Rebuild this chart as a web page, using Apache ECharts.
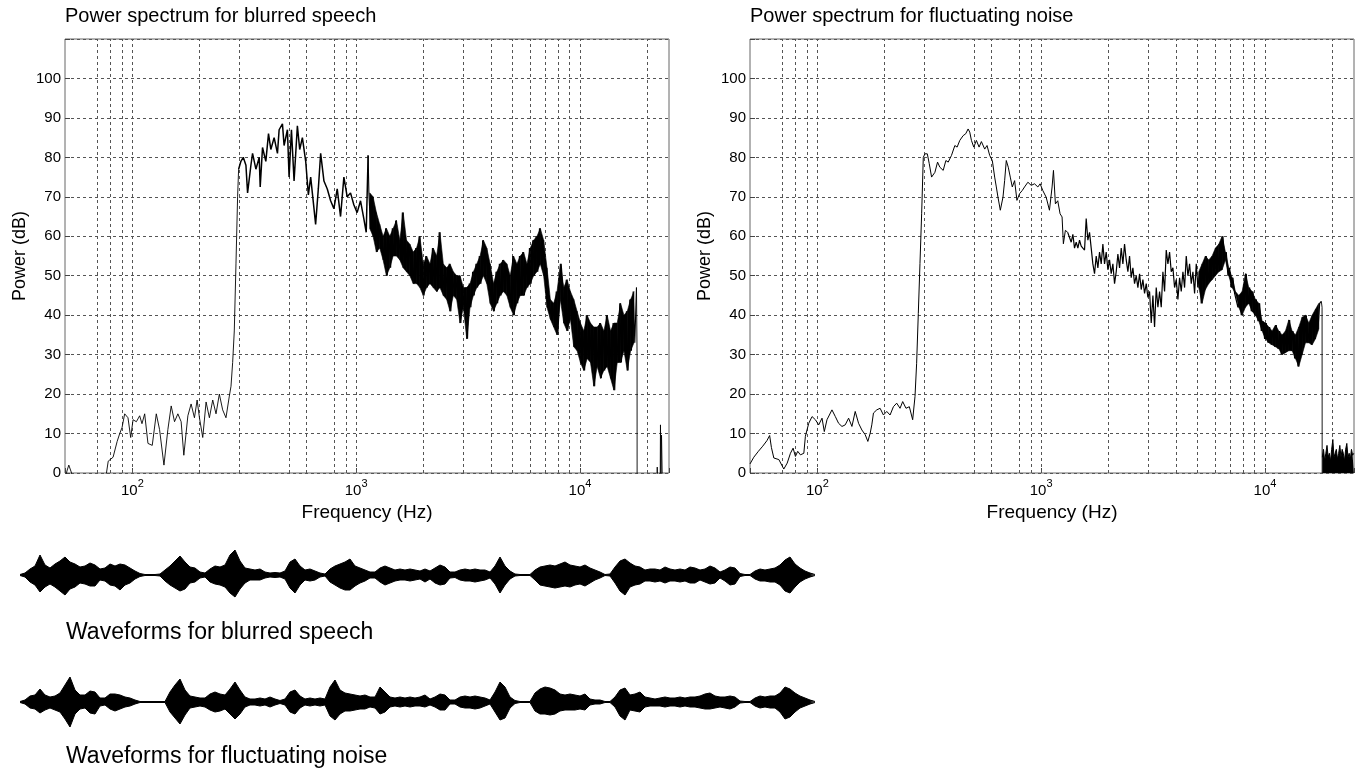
<!DOCTYPE html>
<html>
<head>
<meta charset="utf-8">
<script src="https://cdn.jsdelivr.net/npm/echarts@6/dist/echarts.min.js"></script>
<style>
  html, body { margin: 0; background: #fff; }
  #chart { width: 1359px; height: 776px; }
</style>
</head>
<body>
<div id="chart"></div>
<script>
// vertical grid lines as they show up in the picture (Hz)
const gridFreqs = [70, 80, 90, 100, 200, 300, 500, 600, 800, 900, 1000,
  2000, 3000, 4000, 5000, 6000, 7000, 8000, 9000, 10000, 20000];

// blurred speech: sparse part below 300 Hz, [Hz, dB]
const blurLow = [
  [50, -2], [51, 0.5], [52, 2], [53.5, 0], [55, -6], [74, -4], [76.6, 0], [78, 3], [82, 4], [85.5, 8],
  [87.8, 10], [89.9, 11.5], [92.4, 15], [95.6, 14], [98.3, 9], [100.7, 13.5], [104.2, 13], [107.8, 14.5],
  [110.4, 12.5], [113.5, 15], [117.4, 7.5], [122.7, 7], [127.9, 15], [132.3, 11], [138.4, 2], [144.1, 11],
  [149.1, 17], [154.3, 13], [159.7, 15], [165.2, 13], [169.8, 4.5], [177, 14.5], [183, 17.5], [189.4, 14],
  [194.7, 18.5], [199.4, 14], [206.3, 9], [213.5, 18], [220.9, 14], [228.6, 18.5], [236.5, 15], [244.7, 20],
  [253.2, 16], [262, 14], [271.2, 19.5], [275.9, 22], [280.6, 28], [285.4, 36], [290.4, 53], [295.3, 70],
  [298.4, 77]
];
// blurred speech: 300 Hz - 1.1 kHz
const blurMid = [
  [298.4, 77], [305.5, 79], [313, 80], [321.7, 78], [327.2, 71], [338.6, 78], [344.4, 81], [356.4, 77],
  [368.8, 80], [372.6, 72.5], [381.6, 82.5], [394.8, 79], [405.8, 86], [415.6, 82], [430, 85], [445, 81],
  [452.7, 87], [468.4, 88.5], [476.4, 83], [493, 87], [501.5, 75], [513.9, 87], [527.9, 74], [546.2, 88],
  [559.5, 82], [575, 85], [595, 79], [611.5, 70.5], [626.3, 75], [648, 67], [659, 63], [677.5, 72],
  [694, 81], [718, 74], [743, 72], [769, 69], [795.5, 67], [823, 72], [851.6, 65], [881.4, 75], [912, 70],
  [943.6, 71], [976.3, 68], [1010, 66], [1046, 69], [1082, 64.5], [1109, 61], [1131, 80.5]
];
// blurred speech: dense part, evenly spaced in log frequency (upper, lower, upper, ...)
const blurDenseFrom = 1140, blurDenseTo = 17890;
const blurDense = [
  71, 62, 70, 60, 66, 56, 63, 57, 60, 54,
  62, 50, 60, 52, 62, 55, 64, 55, 59, 54,
  66, 52, 59, 51, 58, 50, 56, 48, 57, 48,
  60, 47, 53, 45, 55, 47, 53, 48, 57, 47,
  55, 46, 61, 47, 53, 45, 52, 44, 53, 41,
  51, 45, 50, 44, 50, 38, 47, 42, 47, 34,
  48, 42, 51, 45, 53, 47, 55, 48, 59, 50,
  57, 48, 53, 43, 48, 41, 51, 43, 53, 45,
  54, 46, 53, 45, 50, 42, 55, 40, 53, 43,
  55, 45, 56, 45, 53, 47, 57, 48, 59, 50,
  60, 51, 62, 53, 59, 50, 52, 42, 44, 39,
  43, 37, 46, 35, 44, 53, 47, 38, 49, 36,
  46, 39, 44, 32, 41, 31, 38, 28, 36, 26,
  40, 29, 38, 28, 37, 22, 37, 27, 38, 24,
  36, 26, 40, 27, 36, 24, 38, 21, 38, 28,
  43, 28, 40, 31, 41, 26, 44, 31, 46, 33,
  47
];
const blurTail = [
  [17890, 47], [18000, 30], [18010, -10], [22100, -10], [22150, 1.5], [22250, -10], [22800, -10],
  [22900, 12.2], [23000, 0], [23150, 9.6], [23380, -5], [25000, -10]
];

// fluctuating noise: up to 1.3 kHz
const noiseLow = [
  [50, 2.3], [52, 4], [54.5, 5.5], [57, 6.8], [59.5, 8.2], [61.2, 9.5], [62.3, 6.5], [63.9, 3.8],
  [67.3, 3.4], [70.8, 1], [73.3, 2.5], [75.8, 5], [77.9, 6.3], [79.8, 4.2], [81.7, 5.5], [84, 4.6],
  [87, 5], [88.4, 9.3], [91.5, 12.6], [94.7, 14.3], [98, 13.5], [101.4, 12.2], [104.9, 13.9],
  [107.4, 10.5], [110.4, 13.5], [116.2, 16], [120.3, 14.3], [124.4, 12.6], [128.8, 11.8], [133.2, 12.2],
  [137.9, 13.9], [142.7, 11.8], [147.6, 15.6], [152.8, 12.6], [158.1, 10.9], [163.6, 9.7], [168.1, 8],
  [172.2, 10.1], [175.1, 12.2], [178.1, 15.2], [184.3, 16], [190.7, 16.4], [197.3, 14.7], [204.2, 15.6],
  [211.3, 14.7], [218.7, 16.8], [226.2, 17.7], [234.1, 16.4], [240.6, 18.1], [248.9, 16.4], [257.6, 16.8],
  [266.6, 13.5], [273.1, 19.4], [277.7, 27.8], [282.5, 40.4], [287.4, 53.1], [292.4, 65.7], [297.4, 80],
  [302.5, 80.9], [309.9, 80.9], [316.2, 78.4], [323.9, 75], [335.1, 76.2], [344.4, 78.8], [352.7, 77.5],
  [365, 76.7], [375.2, 79.2], [384.3, 78.8], [397.5, 80.5], [411.5, 83], [421.2, 82.6], [433, 84.3],
  [448, 85.5], [460.4, 86], [471.6, 87.2], [479.7, 86.4], [488, 84.3], [499.8, 82.6], [513.7, 84.3],
  [528, 82.6], [540.7, 84], [559.5, 82.1], [573, 83], [588.8, 80.5], [605, 79.2], [619.8, 75],
  [630.5, 72.5], [641.3, 69.9], [656.9, 66.6], [675.1, 69.9], [686.7, 74.1], [698.5, 79.2], [713, 77.5],
  [727.8, 75], [743, 72.5], [761, 74.1], [779.4, 69.1], [801, 70.8], [823, 71.6], [843, 72.5],
  [872.5, 73.7], [902.8, 72.9], [934, 73.3], [966.5, 72.5], [989.7, 73.3], [1017, 71.6], [1053, 69.9],
  [1089, 66.6], [1119, 72.5], [1135, 76.7], [1158, 68.2], [1186, 69], [1215, 65.7], [1240, 64.9],
  [1257, 58.1], [1283, 61.5], [1314, 61]
];
const noiseDenseFrom = 1339, noiseDenseTo = 17860;
const noiseDense = [
  61, 58.5, 60.5, 57, 58.5, 57, 59, 57.5, 58, 56.5,
  64.5, 59, 61, 57, 53, 50.5, 55, 52, 56, 53,
  58, 53, 56, 51.5, 54, 50.5, 53, 48, 51, 55.5,
  52, 57, 53, 58, 54, 51, 55, 49.5, 52, 48,
  50, 47, 50.5, 46.5, 49, 45.5, 48, 44.5, 46, 38,
  45, 37, 47, 42, 46, 42, 51, 46, 56.5, 53,
  56, 51, 52, 47, 49, 44, 49.5, 46, 51, 47,
  55, 50, 53, 48, 51, 45.5, 53, 47, 51, 43,
  53, 46.5, 55, 48, 54, 49, 55, 50, 57, 51,
  58, 51.5, 60, 54, 56, 50, 52, 47, 49.5, 45.5,
  46, 42, 45, 40, 46, 42, 50.5, 43, 47, 41,
  46, 40, 44, 38.5, 43, 36, 38.5, 34, 38, 33,
  37, 32.5, 36, 32, 37.5, 31.5, 36, 30, 35, 30.5,
  36, 31, 38.8, 31, 36, 29, 35, 27, 37, 30,
  39.5, 33, 40, 33, 38, 32.5, 40, 34, 41.5, 36.5,
  43, 43.5
];
// above this the noise trace turns into a solid black band
const noiseBandFrom = 5000;
const noiseDrop = [[17860, 43.5], [18000, 42], [18020, 0]];
// black floor above 18 kHz, top edge of the filled strip
const noiseFloorFrom = 18050, noiseFloorTo = 24950;
const noiseFloor = [4, 6, 3, 5, 7, 4, 5, 3, 6, 8.5, 4, 5, 6, 3.5, 5, 7, 4, 6, 5, 3, 6, 7.5, 4, 5, 3.5, 6, 4.5, 5];

// waveform envelopes (one sample every ~5 px), above and below the zero line
const wave1Up = [
  0.5, 2, 6, 9, 20, 10, 7, 11, 14, 18, 13, 11, 8, 9, 12, 10, 6, 7, 11, 9,
  11, 10, 7, 4, 1.5, 0.5, 0.5, 0.5, 1, 5, 9, 14, 19, 13, 8, 7, 3, 2, 6, 9,
  8, 10, 20, 25, 14, 7, 6, 5, 6, 3, 2, 2.5, 2, 4, 13, 16, 9, 5, 6, 4,
  2, 1, 6, 9, 11, 13, 16, 9, 7, 5, 3, 3, 7, 9, 7, 5, 6, 5, 6, 5,
  4, 6, 4, 7, 10, 8, 3, 3, 5, 6, 5, 6, 5, 5, 3, 9, 18, 9, 4, 1,
  0.5, 0.5, 0.5, 5, 8, 9, 10, 9, 11, 13, 10, 9, 8, 10, 7, 5, 3, 0.5, 1, 8,
  14, 16, 12, 9, 8, 5, 6, 6, 5, 8, 6, 5, 6, 5, 8, 7, 5, 6, 9, 7,
  3, 5, 8, 7, 1.5, 0.5, 0.5, 4, 6, 5, 6, 7, 10, 15, 18, 11, 7, 4, 2, 0.5
];
const wave1Dn = [
  0.5, 2, 7, 10, 17, 12, 9, 12, 16, 20, 14, 12, 8, 9, 11, 11, 5, 6, 10, 11,
  15, 10, 8, 4, 1.5, 0.5, 0.5, 0.5, 1, 6, 10, 13, 16, 14, 8, 7, 3, 2, 7, 9,
  10, 12, 18, 22, 14, 8, 5, 5, 5, 3, 2, 2.5, 2, 4, 13, 18, 10, 5, 6, 5,
  2, 1, 7, 10, 13, 15, 15, 11, 8, 6, 3, 3, 7, 10, 8, 6, 5, 5, 6, 5,
  4, 7, 4, 8, 10, 9, 3, 2.5, 5, 6, 6, 7, 6, 5, 3, 9, 18, 10, 4, 1,
  0.5, 0.5, 0.5, 5, 10, 11, 12, 13, 12, 11, 12, 10, 9, 11, 8, 5, 3, 0.5, 1, 8,
  16, 20, 12, 10, 9, 6, 6, 7, 6, 8, 6, 6, 7, 6, 8, 8, 5, 7, 9, 8,
  3, 6, 10, 9, 1.5, 0.5, 0.5, 4, 6, 6, 7, 7, 10, 16, 18, 12, 7, 4, 2, 0.5
];
const wave2Up = [
  0.5, 2, 6, 7, 13, 7, 5, 6, 9, 17, 25, 12, 7, 7, 11, 10, 4, 4, 8, 8,
  7, 5, 4, 2, 0.5, 0.5, 0.5, 0.5, 0.5, 0.5, 10, 17, 23, 12, 6, 5, 4, 4, 8, 10,
  8, 7, 13, 20, 12, 5, 3, 3, 4, 3, 5, 3, 1.5, 3, 10, 12, 6, 3, 4, 3,
  4, 3, 15, 22, 12, 9, 8, 7, 6, 7, 5, 5, 15, 10, 5, 4, 5, 4, 5, 4,
  5, 7, 3, 5, 8, 7, 2, 2, 5, 6, 5, 6, 5, 4, 2, 10, 20, 15, 5, 1.5,
  0.5, 0.5, 0.5, 9, 13, 15, 14, 12, 8, 7, 8, 7, 6, 8, 3, 2, 2, 0.5, 0.5, 5,
  12, 14, 7, 8, 10, 5, 4, 3, 4, 5, 4, 4, 5, 4, 5, 5, 6, 8, 9, 6,
  5, 5, 6, 5, 1, 0.5, 0.5, 4, 6, 5, 6, 6, 9, 15, 13, 9, 6, 4, 2, 0.5
];
const wave2Dn = [
  0.5, 2, 6, 7, 11, 8, 6, 8, 10, 17, 25, 12, 7, 6, 11, 12, 4, 3, 7, 9,
  7, 5, 4, 2, 0.5, 0.5, 0.5, 0.5, 0.5, 0.5, 10, 16, 22, 13, 6, 5, 4, 5, 8, 10,
  9, 7, 12, 17, 12, 5, 3, 3, 4, 3, 5, 3, 1.5, 3, 10, 12, 6, 3, 4, 3,
  4, 3, 14, 18, 12, 9, 9, 8, 7, 7, 5, 6, 12, 10, 5, 4, 5, 4, 5, 4,
  4, 5, 3, 5, 8, 8, 2, 2, 5, 6, 6, 7, 6, 4, 2, 10, 18, 16, 6, 1.5,
  0.5, 0.5, 0.5, 9, 12, 12, 13, 12, 9, 8, 8, 8, 7, 8, 3, 2, 2, 0.5, 0.5, 5,
  14, 18, 8, 9, 10, 5, 4, 4, 4, 5, 4, 4, 5, 4, 5, 5, 6, 7, 7, 6,
  5, 6, 7, 5, 1, 0.5, 0.5, 4, 6, 5, 6, 6, 10, 17, 15, 10, 6, 4, 2, 0.5
];

const FONT = 'Liberation Sans, Arial, sans-serif';

// spread evenly spaced (log f) values between two frequencies
function logSpread(from, to, vals) {
  const n = vals.length;
  return vals.map((v, i) => [from * Math.pow(to / from, i / (n - 1)), v]);
}

// pair consecutive upper/lower readings, then join neighbours into quads
function bandItems(points) {
  const pairs = [];
  for (let i = 0; i + 1 < points.length; i += 2) {
    const a = points[i][1], b = points[i + 1][1];
    pairs.push([Math.sqrt(points[i][0] * points[i + 1][0]), Math.min(a, b), Math.max(a, b)]);
  }
  const items = [];
  for (let j = 0; j + 1 < pairs.length; j++) items.push(pairs[j].concat(pairs[j + 1]));
  return items;
}

const blurDenseData = logSpread(blurDenseFrom, blurDenseTo, blurDense);
const noiseDenseData = logSpread(noiseDenseFrom, noiseDenseTo, noiseDense);
const noiseFloorData = logSpread(noiseFloorFrom, noiseFloorTo, noiseFloor);
const noiseBandData = noiseDenseData.filter(p => p[0] >= noiseBandFrom);

function freqAxis(gi) {
  return {
    type: 'log', logBase: 10, gridIndex: gi, min: 50, max: 25000,
    name: 'Frequency (Hz)', nameLocation: 'middle', nameGap: 26,
    nameTextStyle: { fontSize: 19, color: '#000', fontFamily: FONT },
    axisLine: { show: false },
    axisTick: { inside: true, length: 5, lineStyle: { color: '#444' } },
    splitLine: { show: false },
    axisLabel: {
      margin: 5, color: '#000', fontFamily: FONT,
      formatter: function (v) {
        const e = Math.log10(v);
        if (Math.abs(e - Math.round(e)) > 1e-6) return '';
        return '{b|10}{s|' + Math.round(e) + '}';
      },
      rich: {
        b: { fontSize: 15, fontFamily: FONT, color: '#000', verticalAlign: 'bottom' },
        s: { fontSize: 11, fontFamily: FONT, color: '#000', verticalAlign: 'bottom', padding: [0, 0, 9, 0] }
      }
    }
  };
}

function powerAxis(gi) {
  return {
    type: 'value', gridIndex: gi, min: 0, max: 110, interval: 10,
    name: 'Power (dB)', nameLocation: 'middle', nameGap: 36,
    nameTextStyle: { fontSize: 18, color: '#000', fontFamily: FONT },
    axisLine: { show: false },
    axisTick: { inside: true, length: 5, lineStyle: { color: '#444' } },
    axisLabel: { fontSize: 15, margin: 4, color: '#000', fontFamily: FONT,
      formatter: v => (v > 100 ? '' : String(v)) },
    splitLine: { lineStyle: { type: [3, 3], color: '#555', width: 1 } }
  };
}

function trace(gi, data, width, extra) {
  return Object.assign({
    type: 'line', xAxisIndex: gi, yAxisIndex: gi, data: data,
    showSymbol: false, clip: true, z: 3,
    lineStyle: { color: '#000', width: width }
  }, extra || {});
}

// filled band between the lower and upper readings of a dense stretch
function band(gi, points) {
  return {
    type: 'custom', xAxisIndex: gi, yAxisIndex: gi, clip: true, z: 2, silent: true,
    data: bandItems(points),
    encode: { x: 0, y: 1 },
    renderItem: function (params, api) {
      const p = [
        api.coord([api.value(0), api.value(1)]),
        api.coord([api.value(0), api.value(2)]),
        api.coord([api.value(3), api.value(5)]),
        api.coord([api.value(3), api.value(4)])
      ];
      return { type: 'polygon', shape: { points: p }, style: { fill: '#000', stroke: '#000', lineWidth: 0.6 } };
    }
  };
}

function gridLines(gi) {
  return {
    type: 'line', xAxisIndex: gi, yAxisIndex: gi, data: [], z: 1,
    markLine: {
      silent: true, z: 1, symbol: ['none', 'none'], label: { show: false },
      lineStyle: { type: [3, 3], color: '#555', width: 1 },
      emphasis: { disabled: true },
      data: gridFreqs.map(f => ({ xAxis: f }))
    }
  };
}

function wave(gi, vals, sign) {
  return {
    type: 'line', xAxisIndex: gi, yAxisIndex: gi,
    data: vals.map((v, i) => [i, sign * v]),
    showSymbol: false,
    lineStyle: { color: '#000', width: 1 },
    areaStyle: { color: '#000', opacity: 1 }
  };
}

function waveX(gi) { return { type: 'value', gridIndex: gi, min: 0, max: wave1Up.length - 1, show: false }; }
function waveY(gi) { return { type: 'value', gridIndex: gi, min: -30, max: 30, show: false }; }

const titleStyle = { fontSize: 20, fontWeight: 'normal', fontFamily: FONT, color: '#000' };
const labelStyle = { fontSize: 23, fontWeight: 'normal', fontFamily: FONT, color: '#000' };

const chart = echarts.init(document.getElementById('chart'));
chart.setOption({
  animation: false,
  backgroundColor: '#fff',
  title: [
    { text: 'Power spectrum for blurred speech', left: 65, top: 6, padding: 0, textStyle: titleStyle },
    { text: 'Power spectrum for fluctuating noise', left: 750, top: 6, padding: 0, textStyle: titleStyle },
    { text: 'Waveforms for blurred speech', left: 66, top: 621, padding: 0, textStyle: labelStyle },
    { text: 'Waveforms for fluctuating noise', left: 66, top: 745, padding: 0, textStyle: labelStyle }
  ],
  grid: [
    { left: 65, top: 39, width: 604, height: 434, show: true, borderColor: '#666', borderWidth: 1, outerBoundsMode: 'none' },
    { left: 750, top: 39, width: 604, height: 434, show: true, borderColor: '#666', borderWidth: 1, outerBoundsMode: 'none' },
    { left: 20, top: 545, width: 795, height: 60, outerBoundsMode: 'none' },
    { left: 20, top: 672, width: 795, height: 60, outerBoundsMode: 'none' }
  ],
  xAxis: [freqAxis(0), freqAxis(1), waveX(2), waveX(3)],
  yAxis: [powerAxis(0), powerAxis(1), waveY(2), waveY(3)],
  series: [
    gridLines(0), gridLines(1),
    band(0, blurDenseData),
    trace(0, blurLow, 0.9),
    trace(0, blurMid, 1.5),
    trace(0, [blurMid[blurMid.length - 1]].concat(blurDenseData), 1.1),
    trace(0, blurTail, 0.9),
    band(1, noiseBandData),
    trace(1, noiseLow, 1),
    trace(1, [noiseLow[noiseLow.length - 1]].concat(noiseDenseData), 1.2),
    trace(1, noiseDrop, 0.9),
    trace(1, noiseFloorData, 1, { areaStyle: { color: '#000', opacity: 1 } }),
    wave(2, wave1Up, 1), wave(2, wave1Dn, -1),
    wave(3, wave2Up, 1), wave(3, wave2Dn, -1)
  ]
});
</script>
</body>
</html>
